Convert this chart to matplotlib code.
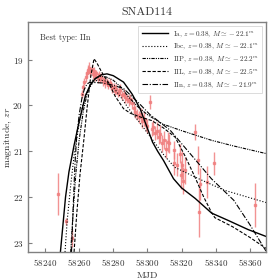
import matplotlib
matplotlib.use('Agg')
import matplotlib.pyplot as plt
import numpy as np

plt.rcParams['font.family'] = 'serif'
plt.rcParams['font.serif'] = ['cmr10']
plt.rcParams['mathtext.fontset'] = 'cm'
plt.rcParams['axes.formatter.use_mathtext'] = True

# observed photometry (MJD, zr magnitude, error)
obs_mjd = [58247.7, 58252.5, 58256.0,
           58261.5, 58262.3, 58263.0, 58263.8, 58264.5, 58265.2, 58265.9, 58266.6,
           58267.3, 58268.0, 58268.7, 58269.4, 58270.1, 58270.8, 58271.5, 58272.2,
           58273.0, 58273.8, 58274.6, 58275.4, 58276.2, 58277.0, 58277.8, 58278.6,
           58279.4, 58280.2, 58281.0, 58281.8, 58282.6, 58283.4, 58284.2, 58285.0,
           58286.0, 58287.0, 58288.0, 58289.0, 58290.0, 58291.0, 58292.0, 58293.0,
           58294.0, 58295.0, 58296.0, 58297.0, 58298.0, 58299.0, 58300.0, 58301.7,
           58302.5, 58303.5, 58304.5, 58305.5, 58306.5, 58307.5, 58308.5, 58309.5,
           58311.0, 58312.0, 58312.9, 58315.3, 58315.7, 58317.5, 58319.2, 58319.7,
           58320.1, 58321.1, 58322.0, 58327.8, 58329.9, 58330.2, 58330.8, 58335.2,
           58339.1, 58362.8]
obs_mag = [21.94, 22.53, 22.9,
           19.75, 19.6, 19.48, 19.38, 19.3, 19.22, 19.18, 19.28,
           19.2, 19.32, 19.25, 19.36, 19.3, 19.4, 19.33, 19.42,
           19.38, 19.47, 19.44, 19.52, 19.48, 19.55, 19.5, 19.56,
           19.62, 19.6, 19.68, 19.64, 19.72, 19.7, 19.66, 19.78,
           19.74, 19.82, 19.85, 19.9, 19.86, 19.95, 20.05, 20.15,
           20.2, 20.25, 20.18, 20.35, 20.3, 20.42, 20.45, 19.93,
           20.52, 20.48, 20.6, 20.55, 20.68, 20.62, 20.83, 20.75,
           20.94, 20.8, 20.83, 20.98, 21.26, 21.29, 21.05, 21.52,
           21.3, 21.64, 21.42, 20.58, 21.19, 22.33, 21.71, 21.67,
           21.26, 22.18]
obs_err = [0.46, 0.08, 0.2,
           0.08, 0.07, 0.08, 0.1, 0.08, 0.1, 0.12, 0.1,
           0.08, 0.1, 0.09, 0.1, 0.08, 0.1, 0.09, 0.1,
           0.08, 0.1, 0.09, 0.1, 0.08, 0.1, 0.09, 0.1,
           0.1, 0.09, 0.1, 0.1, 0.09, 0.1, 0.12, 0.1,
           0.1, 0.12, 0.1, 0.12, 0.1, 0.12, 0.12, 0.13,
           0.12, 0.14, 0.13, 0.14, 0.15, 0.14, 0.15, 0.15,
           0.15, 0.16, 0.15, 0.18, 0.16, 0.2, 0.18, 0.2,
           0.2, 0.22, 0.2, 0.2, 0.25, 0.25, 0.2, 0.3,
           0.3, 0.3, 0.3, 0.18, 0.3, 0.55, 0.35, 0.35,
           0.25, 0.48]

# model light curves
ia_mjd = [58249.0, 58250.5, 58252.0, 58254.0, 58257.0, 58260.0, 58263.7, 58266.5, 58269.5,
          58273.0, 58276.3, 58280.0, 58286.0, 58291.0, 58295.7, 58300.0, 58303.0, 58306.0,
          58309.4, 58315.3, 58320.0, 58328.0, 58337.6, 58347.3, 58359.0, 58369.5]
ia_mag = [23.2, 22.6, 22.0, 21.45, 20.87, 20.35, 19.78, 19.55, 19.41,
          19.33, 19.31, 19.35, 19.49, 19.75, 20.07, 20.5, 20.8, 21.0,
          21.2, 21.6, 21.8, 22.03, 22.35, 22.51, 22.71, 22.86]

ibc_mjd = [58251.7, 58253.0, 58255.0, 58257.0, 58259.5, 58262.0, 58265.0, 58268.0, 58271.0,
           58275.0, 58280.0, 58285.0, 58289.0, 58295.0, 58302.0, 58310.0, 58316.0,
           58330.0, 58345.0, 58369.5]
ibc_mag = [23.2, 22.5, 21.75, 21.1, 20.5, 20.0, 19.68, 19.5, 19.44,
           19.46, 19.6, 19.85, 20.07, 20.35, 20.7, 21.1, 21.35,
           21.6, 21.85, 22.12]

iip_mjd = [58255.0, 58256.5, 58258.0, 58260.0, 58262.5, 58265.0, 58268.0, 58272.0, 58276.0,
           58280.0, 58285.0, 58289.0, 58295.0, 58300.0, 58308.5, 58320.0, 58337.5,
           58350.0, 58369.5]
iip_mag = [23.2, 22.3, 21.5, 20.75, 20.1, 19.7, 19.45, 19.36, 19.38,
           19.45, 19.62, 19.82, 20.05, 20.2, 20.4, 20.55, 20.76,
           20.88, 21.05]

iil_mjd = [58257.0, 58258.5, 58260.5, 58262.7, 58264.7, 58266.7, 58268.7, 58270.5, 58272.6,
           58274.3, 58277.5, 58281.1, 58286.0, 58290.0, 58295.7, 58302.5, 58309.0,
           58316.2, 58322.0, 58327.8, 58333.0, 58337.5, 58339.5, 58350.0, 58360.0, 58369.5]
iil_mag = [23.2, 22.4, 21.5, 20.76, 20.03, 19.38, 18.98, 19.08, 19.23,
           19.34, 19.52, 19.8, 20.07, 20.17, 20.25, 20.33, 20.48,
           20.69, 21.1, 21.56, 22.0, 22.33, 22.45, 22.65, 22.88, 23.12]

iin_mjd = [58255.5, 58256.5, 58257.5, 58258.5, 58260.0, 58261.7, 58263.0, 58264.6, 58266.0,
           58270.0, 58274.0, 58276.5, 58280.0, 58286.0, 58295.0, 58301.5, 58313.3,
           58325.0, 58337.5, 58350.6, 58360.0, 58369.5]
iin_mag = [23.2, 22.2, 21.3, 20.7, 20.2, 19.82, 19.65, 19.53, 19.5,
           19.5, 19.51, 19.53, 19.56, 19.63, 19.95, 20.2, 20.54,
           21.05, 21.6, 22.07, 22.6, 23.18]

labels = [r'Ia, $z = 0.38$, $M \simeq -22.1^m$',
          r'Ibc, $z = 0.38$, $M \simeq -22.1^m$',
          r'IIP, $z = 0.38$, $M \simeq -22.2^m$',
          r'IIL, $z = 0.38$, $M \simeq -22.5^m$',
          r'IIn, $z = 0.38$, $M \simeq -21.9^m$']

fig = plt.figure(figsize=(2.8, 2.8), dpi=100)
ax = fig.add_axes([0.1, 0.1, 0.85, 0.821])

ax.errorbar(obs_mjd, obs_mag, yerr=obs_err, fmt='s', color='#f08080', ms=1.5,
            elinewidth=1.0, alpha=0.85, zorder=1)

ax.plot(ia_mjd, ia_mag, '-', color='k', lw=1.0, label=labels[0])
ax.plot(ibc_mjd, ibc_mag, ':', color='k', lw=0.8, label=labels[1])
ax.plot(iip_mjd, iip_mag, color='k', lw=0.8, dashes=[3, 1, 1, 1, 1, 1], label=labels[2])
ax.plot(iil_mjd, iil_mag, '--', color='k', lw=0.8, dashes=[3, 1.5], label=labels[3])
ax.plot(iin_mjd, iin_mag, '-.', color='k', lw=0.8, dashes=[5, 1.5, 1, 1.5], label=labels[4])

ax.set_xlim(58230, 58369.5)
ax.set_ylim(23.2, 18.18)
ax.set_xticks([58240, 58260, 58280, 58300, 58320, 58340, 58360])
ax.set_yticks([19, 20, 21, 22, 23])
ax.tick_params(direction='in', labelsize=6.5, length=3, color='#808080', labelcolor='#333333')
for s in ax.spines.values():
    s.set_color('#808080')
    s.set_linewidth(1.0)

ax.set_xlabel('MJD', fontsize=7, color='#333333', labelpad=3)
ax.set_ylabel(r'magnitude, $zr$', fontsize=7, color='#333333')
ax.yaxis.set_label_coords(-0.06, 0.5)
ax.set_title('SNAD114', fontsize=8.5, color='#333333', pad=5)
ax.text(0.05, 0.95, 'Best type: IIn', transform=ax.transAxes, fontsize=6,
        color='#333333', va='top', ha='left')

leg = ax.legend(loc='upper right', fontsize=5.2, handlelength=3.6, frameon=True,
                fancybox=False, borderpad=0.45, labelspacing=0.45, handletextpad=0.8)
leg.get_frame().set_edgecolor('#cccccc')
leg.get_frame().set_linewidth(0.6)
for t in leg.get_texts():
    t.set_color('#333333')

fig.savefig('out.png', dpi=100)
